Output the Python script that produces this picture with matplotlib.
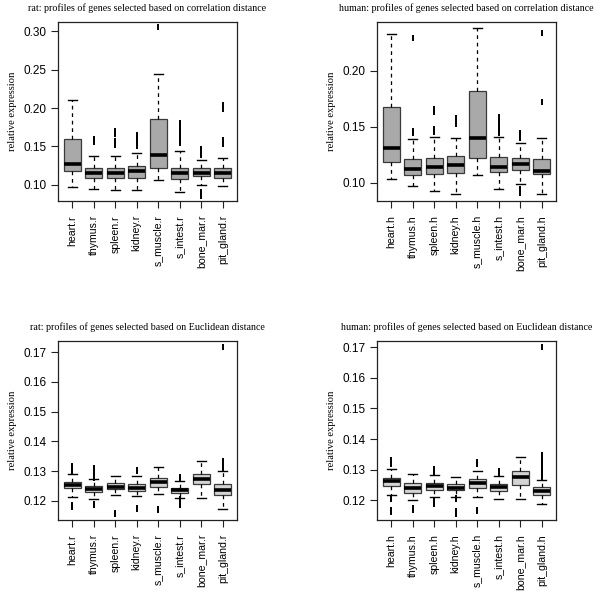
import matplotlib
matplotlib.use("Agg")
import matplotlib.pyplot as plt

rat_labels = ["heart.r", "thymus.r", "spleen.r", "kidney.r", "s_muscle.r", "s_intest.r", "bone_mar.r", "pit_gland.r"]
hum_labels = ["heart.h", "thymus.h", "spleen.h", "kidney.h", "s_muscle.h", "s_intest.h", "bone_mar.h", "pit_gland.h"]

# rat, correlation distance
rc_q1 = [0.118, 0.109, 0.1095, 0.1095, 0.122, 0.107, 0.111, 0.1095]
rc_med = [0.127, 0.115, 0.116, 0.118, 0.139, 0.116, 0.116, 0.1155]
rc_q3 = [0.1595, 0.1225, 0.1225, 0.124, 0.1855, 0.1225, 0.1225, 0.122]
rc_lo = [0.097, 0.0948, 0.0935, 0.0935, 0.1065, 0.091, 0.0996, 0.0987]
rc_hi = [0.2107, 0.137, 0.138, 0.141, 0.244, 0.1447, 0.1326, 0.1352]
rc_out = [[], [0.156, 0.158, 0.160], [0.152, 0.155, 0.157, 0.166, 0.168, 0.170],
          [0.151, 0.154, 0.157, 0.160, 0.163, 0.165], [0.305],
          [0.155, 0.158, 0.161, 0.164, 0.167, 0.170, 0.176, 0.179, 0.181],
          [0.139, 0.142, 0.145, 0.147, 0.085, 0.088, 0.091], [0.153, 0.158, 0.199, 0.204]]

# human, correlation distance
hc_q1 = [0.1182, 0.1069, 0.1078, 0.1087, 0.1221, 0.1096, 0.1116, 0.1075]
hc_med = [0.1307, 0.1122, 0.114, 0.1158, 0.1402, 0.1143, 0.1167, 0.1104]
hc_q3 = [0.1676, 0.1209, 0.122, 0.1238, 0.1819, 0.1232, 0.1223, 0.1214]
hc_lo = [0.1036, 0.0973, 0.0929, 0.0896, 0.1066, 0.0944, 0.0989, 0.0902]
hc_hi = [0.2328, 0.1393, 0.1411, 0.140, 0.2379, 0.1405, 0.1352, 0.1402]
hc_out = [[], [0.144, 0.146, 0.229], [0.145, 0.148, 0.163, 0.166], [0.152, 0.155, 0.158], [],
          [0.144, 0.147, 0.150, 0.153, 0.156, 0.159], [0.140, 0.142, 0.144, 0.091, 0.094], [0.1718, 0.2334]]

# rat, Euclidean distance
re_q1 = [0.1243, 0.123, 0.1239, 0.1235, 0.1248, 0.1227, 0.1256, 0.1219]
re_med = [0.1254, 0.124, 0.1248, 0.1245, 0.1265, 0.1236, 0.1274, 0.1237]
re_q3 = [0.1263, 0.125, 0.1261, 0.1256, 0.1278, 0.1245, 0.129, 0.1256]
re_lo = [0.1214, 0.1206, 0.1219, 0.1217, 0.1223, 0.1211, 0.1209, 0.1173]
re_hi = [0.1291, 0.1273, 0.1285, 0.1284, 0.1313, 0.1268, 0.1335, 0.1302]
re_out = [[0.1298, 0.1305, 0.1312, 0.1317, 0.118, 0.1185],
          [0.1278, 0.1285, 0.1292, 0.1299, 0.1306, 0.131, 0.1185, 0.119],
          [0.1155, 0.116], [0.1302, 0.1305, 0.1172, 0.1176], [0.117, 0.1174],
          [0.1275, 0.1282, 0.1185, 0.119, 0.1195, 0.120, 0.1205], [],
          [0.1307, 0.1314, 0.1321, 0.1328, 0.1334, 0.1718]]

# human, Euclidean distance
he_q1 = [0.1248, 0.1225, 0.1234, 0.1235, 0.1239, 0.123, 0.125, 0.1217]
he_med = [0.1263, 0.1241, 0.1247, 0.1242, 0.1256, 0.1243, 0.1277, 0.123]
he_q3 = [0.1274, 0.1258, 0.1258, 0.1252, 0.127, 0.1252, 0.1296, 0.1244]
he_lo = [0.1217, 0.1201, 0.121, 0.1212, 0.121, 0.1203, 0.1203, 0.1188]
he_hi = [0.1301, 0.1286, 0.1284, 0.1277, 0.1296, 0.128, 0.1341, 0.1266]
he_out = [[0.1318, 0.1325, 0.1332, 0.1203, 0.1208, 0.1163, 0.1168], [0.1168, 0.1174],
          [0.1289, 0.1295, 0.1302, 0.1192, 0.1197, 0.1188], [0.1203, 0.1208, 0.1155, 0.116, 0.1164],
          [0.1318, 0.1326, 0.1164, 0.117], [0.1289, 0.1296], [],
          [0.1272, 0.128, 0.1288, 0.1296, 0.1304, 0.1312, 0.132, 0.1328, 0.1336, 0.1344, 0.1348, 0.1702]]

titles = ["rat: profiles of genes selected based on correlation distance",
          "human: profiles of genes selected based on correlation distance",
          "rat: profiles of genes selected based on Euclidean distance",
          "human: profiles of genes selected based on Euclidean distance"]

panels = [
    (rat_labels, rc_q1, rc_med, rc_q3, rc_lo, rc_hi, rc_out, (0.079, 0.312), [0.10, 0.15, 0.20, 0.25, 0.30], "%.2f", "#a9a9a9"),
    (hum_labels, hc_q1, hc_med, hc_q3, hc_lo, hc_hi, hc_out, (0.0836, 0.2435), [0.10, 0.15, 0.20], "%.2f", "#a9a9a9"),
    (rat_labels, re_q1, re_med, re_q3, re_lo, re_hi, re_out, (0.1136, 0.1737), [0.12, 0.13, 0.14, 0.15, 0.16, 0.17], "%.2f", "#d3d3d3"),
    (hum_labels, he_q1, he_med, he_q3, he_lo, he_hi, he_out, (0.1136, 0.172), [0.12, 0.13, 0.14, 0.15, 0.16, 0.17], "%.2f", "#d3d3d3"),
]

fig = plt.figure(figsize=(6.0, 5.94), dpi=100)
fig.patch.set_facecolor("white")
W, H = 600.0, 594.0
rects = [(58, 22), (377, 22), (58, 341), (377, 341)]
aw, ah = 179.0, 179.0

serif = ["Liberation Serif", "DejaVu Serif"]
sans = ["Liberation Sans", "DejaVu Sans"]

for (labels, q1, med, q3, lo, hi, out, ylim, yt, fmt, fc), (px, py), title in zip(panels, rects, titles):
    ax = fig.add_axes([px / W, 1 - (py + ah) / H, aw / W, ah / H])
    stats = []
    for i in range(len(labels)):
        stats.append(dict(med=med[i], q1=q1[i], q3=q3[i], whislo=lo[i], whishi=hi[i],
                          fliers=out[i], label=labels[i]))
    ax.bxp(stats, positions=list(range(1, len(labels) + 1)), widths=0.8, capwidths=0.4,
           patch_artist=True, showfliers=True,
           boxprops=dict(facecolor=fc, edgecolor="#3a3a3a", linewidth=0.9),
           whiskerprops=dict(color="black", linewidth=0.9, linestyle=(0, (3, 3))),
           capprops=dict(color="black", linewidth=1.0),
           medianprops=dict(color="black", linewidth=2.6, solid_capstyle="butt"),
           flierprops=dict(marker="|", markersize=5, markeredgewidth=1.4,
                           markeredgecolor="black", linestyle="none"))
    ax.set_xlim(0.34, 8.66)
    ax.set_ylim(*ylim)
    ax.set_yticks(yt)
    ax.set_yticklabels([fmt % v for v in yt], fontsize=8.5, family=sans)
    ax.set_xticks(range(1, len(labels) + 1))
    ax.set_xticklabels(labels, rotation=90, fontsize=7.6, family=sans)
    ax.tick_params(direction="out", length=5, width=0.8, color="#222222")
    ax.tick_params(axis="x", pad=5)
    ax.tick_params(axis="y", pad=3)
    for s in ax.spines.values():
        s.set_linewidth(0.9)
        s.set_color("#222222")
    ax.set_title(title, fontsize=7.2, family=serif, pad=8)
    ax.set_ylabel("relative expression", fontsize=7.6, family=serif)
    ax.yaxis.set_label_coords(-0.23, 0.5)

fig.savefig("out.png", dpi=100, facecolor="white")
